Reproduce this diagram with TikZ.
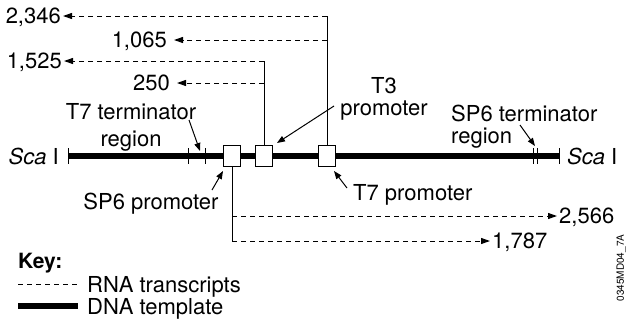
\documentclass[tikz,border=0pt]{standalone}
\usepackage{fontspec}
\setmainfont{TeX Gyre Heros}
\usetikzlibrary{arrows.meta}

\begin{document}
\begin{tikzpicture}[x=1pt, y=-1pt,
  lbl/.style={font=\fontsize{22}{22}\selectfont, inner xsep=2pt, inner ysep=0pt, text depth=0pt},
  numgap/.style={inner xsep=7pt},
  dna/.style={line width=6pt},
  rna/.style={line width=1pt, dash pattern=on 5pt off 4pt},
  stem/.style={line width=1pt},
  tick/.style={line width=1pt},
  promo/.style={draw, line width=1pt, fill=white, minimum width=17pt, minimum height=21pt, inner sep=0pt},
  pointer/.style={line width=1pt, -{Triangle[length=8pt, width=6pt]}},
  tip/.style={-{Triangle[length=9pt, width=6pt]}}]
  \useasboundingbox (0,0) rectangle (631,322);

  % ---- DNA template with Sca I ends ----
  \node[lbl, anchor=east] (scaL) at (61,156) {\itshape Sca\upshape\ I};
  \node[lbl, anchor=west] (scaR) at (565,156) {\itshape Sca\upshape\ I};
  \draw[dna] (68,156) -- (559,156);
  \foreach \x in {68,188,205,533,537,559} {\draw[tick] (\x,148) -- (\x,164);}

  % ---- promoters ----
  \node[promo] (sp6box) at (232,156) {};
  \node[promo] (t3box) at (264,156) {};
  \node[promo] (t7box) at (327,156) {};

  % ---- labels on the template ----
  \node[lbl, align=center, anchor=north, font=\fontsize{22}{27}\selectfont] (t7term) at (131,103) {T7 terminator\\region};
  \node[lbl, align=center, anchor=north] (t3lbl) at (384,77) {T3\\promoter};
  \node[lbl, align=left, anchor=north west, inner xsep=0pt] (sp6term) at (451,105) {SP6 terminator\\region};
  \node[lbl] (sp6lbl) at (151,201) {SP6 promoter};
  \node[lbl, anchor=west] (t7lbl) at (351,192) {T7 promoter};

  \coordinate (t7termtail) at (189,120);  \coordinate (t7termtip) at (200,151);
  \coordinate (sp6tail) at (212,190);     \coordinate (sp6tip) at (223,171);
  \coordinate (t3tail) at (334,106);      \coordinate (t3tip) at (277,143);
  \coordinate (t7tail) at (347,188);      \coordinate (t7tip) at (334,171);
  \coordinate (sp6termtail) at (520,125); \coordinate (sp6termtip) at (535,146);
  \foreach \a in {t7term,sp6,t3,t7,sp6term} {\draw[pointer] (\a tail) -- (\a tip);}

  % ---- transcripts from T7 ----
  \coordinate (t7top) at (327,16);
  \coordinate (t7mid) at (327,40);
  \node[lbl, anchor=east] (n2346) at (63,16) {2,346};
  \node[lbl, numgap, anchor=east] (n1065) at (174,40) {1,065};
  \draw[stem] (t7box.north) -- (t7top);
  \draw[rna, tip] (t7top) -- (n2346);
  \draw[rna, tip] (t7mid) -- (n1065);

  % ---- transcripts from T3 ----
  \coordinate (t3top) at (264,61);
  \coordinate (t3mid) at (264,83);
  \node[lbl, anchor=east] (n1525) at (64,61) {1,525};
  \node[lbl, numgap, anchor=east] (n250) at (177,83) {250};
  \draw[stem] (t3box.north) -- (t3top);
  \draw[rna, tip] (t3top) -- (n1525);
  \draw[rna, tip] (t3mid) -- (n250);

  % ---- transcripts from SP6 ----
  \coordinate (sp6end) at (232,241);
  \coordinate (sp6mid) at (232,216);
  \node[lbl, anchor=west] (n2566) at (557,216) {2,566};
  \node[lbl, anchor=west] (n1787) at (490,241) {1,787};
  \draw[stem] (sp6box.south) -- (sp6end);
  \draw[rna, tip] (sp6mid) -- (n2566);
  \draw[rna, tip] (sp6end) -- (n1787);

  % ---- Key ----
  \node[font=\fontsize{21}{21}\selectfont\bfseries, anchor=west, inner sep=0pt, text depth=0pt] (keyttl) at (18,261) {Key:};
  \coordinate (rnastart) at (18,284);
  \coordinate (dnastart) at (18,306);
  \node[lbl, anchor=west] (rnakey) at (85,284) {RNA transcripts};
  \node[lbl, anchor=west] (dnakey) at (85,306) {DNA template};
  \draw[rna] (rnastart) -- (78,284);
  \draw[dna] (dnastart) -- (78,306);

  \node[rotate=90, font=\fontsize{10}{10}\selectfont, inner sep=0pt] (figid) at (621,268) {0345MD04\_7A};
\end{tikzpicture}
\end{document}
